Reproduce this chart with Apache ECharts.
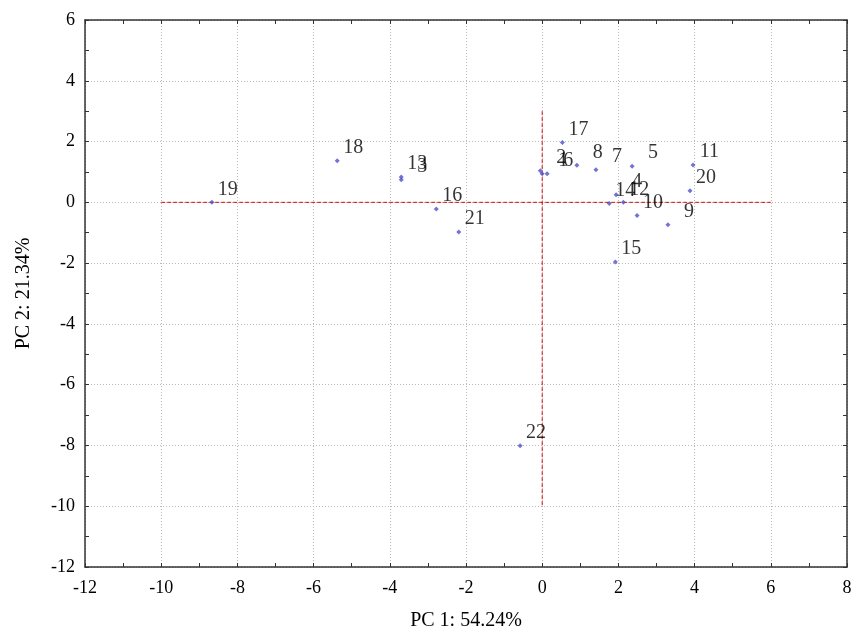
<!DOCTYPE html>
<html>
<head>
<meta charset="utf-8">
<script src="https://cdn.jsdelivr.net/npm/echarts@6/dist/echarts.min.js"></script>
<style>
  html, body { margin: 0; padding: 0; background: #fff; }
  #chart { width: 855px; height: 636px; }
</style>
</head>
<body>
<div id="chart"></div>
<script>
// Sample scores on the first two principal components
const sampleIds = ['1', '2', '3', '4', '5', '6', '7', '8', '9', '10', '11',
                   '12', '13', '14', '15', '16', '17', '18', '19', '20', '21', '22'];
const pc1Scores = [0.00, -0.05, -3.70, 1.94, 2.36, 0.13, 1.41, 0.91, 3.30, 2.49, 3.96,
                   2.13, -3.70, 1.76, 1.92, -2.78, 0.53, -5.38, -8.67, 3.88, -2.19, -0.58];
const pc2Scores = [0.94, 1.04, 0.74, 0.25, 1.19, 0.94, 1.07, 1.22, -0.74, -0.43, 1.23,
                   0.00, 0.83, -0.04, -1.96, -0.22, 1.97, 1.37, 0.00, 0.38, -0.98, -8.01];

// Origin cross-hair segments
const hLineX = [-10, 6];   // along PC 2 = 0
const vLineY = [3, -10];   // along PC 1 = 0

const xRange = { min: -12, max: 8, interval: 2 };
const yRange = { min: -12, max: 6, interval: 2 };

const serif = '"Liberation Serif", "Times New Roman", serif';
const axisColor = '#333333';

const points = sampleIds.map((id, i) => [pc1Scores[i], pc2Scores[i], id]);

function boxAxis(range, position, primary, name) {
  return {
    type: 'value',
    position: position,
    min: range.min,
    max: range.max,
    interval: range.interval,
    name: primary ? name : '',
    nameLocation: 'middle',
    nameGap: position === 'bottom' ? 44 : 51,
    nameTextStyle: { fontFamily: serif, fontSize: 20, color: '#000' },
    axisLine: { show: true, onZero: false, lineStyle: { color: axisColor, width: 1.5 } },
    axisTick: { show: true, inside: true, length: 4, lineStyle: { color: axisColor, width: 1 } },
    minorTick: { show: true, splitNumber: 2, length: 4, lineStyle: { color: axisColor, width: 1 } },
    axisLabel: {
      show: primary,
      fontFamily: serif,
      fontSize: 18,
      color: '#000',
      margin: position === 'bottom' ? 12 : 10
    },
    splitLine: primary ? { show: true, lineStyle: { color: '#b8b8b8', type: [1, 2], width: 1 } } : { show: false },
    minorSplitLine: { show: false }
  };
}

const chart = echarts.init(document.getElementById('chart'));
chart.setOption({
  animation: false,
  backgroundColor: '#ffffff',
  grid: { left: 85, right: 8, top: 20, bottom: 69, containLabel: false },
  xAxis: [
    boxAxis(xRange, 'bottom', true, 'PC 1: 54.24%'),
    boxAxis(xRange, 'top', false, '')
  ],
  yAxis: [
    boxAxis(yRange, 'left', true, 'PC 2: 21.34%'),
    boxAxis(yRange, 'right', false, '')
  ],
  series: [
    {
      type: 'line',
      data: hLineX.map(x => [x, 0]),
      symbol: 'none',
      silent: true,
      lineStyle: { color: '#cc1010', width: 1, type: [4, 2] },
      z: 3
    },
    {
      type: 'line',
      data: vLineY.map(y => [0, y]),
      symbol: 'none',
      silent: true,
      lineStyle: { color: '#cc1010', width: 1, type: [4, 2] },
      z: 3
    },
    {
      type: 'scatter',
      data: points,
      symbol: 'diamond',
      symbolSize: 5,
      itemStyle: { color: '#5050c8' },
      z: 4,
      label: {
        show: true,
        position: [28.5, -10.5],
        align: 'right',
        verticalAlign: 'middle',
        formatter: p => p.value[2],
        fontFamily: serif,
        fontSize: 20,
        color: '#000'
      },
      labelLayout: { hideOverlap: false }
    }
  ]
});
</script>
</body>
</html>
